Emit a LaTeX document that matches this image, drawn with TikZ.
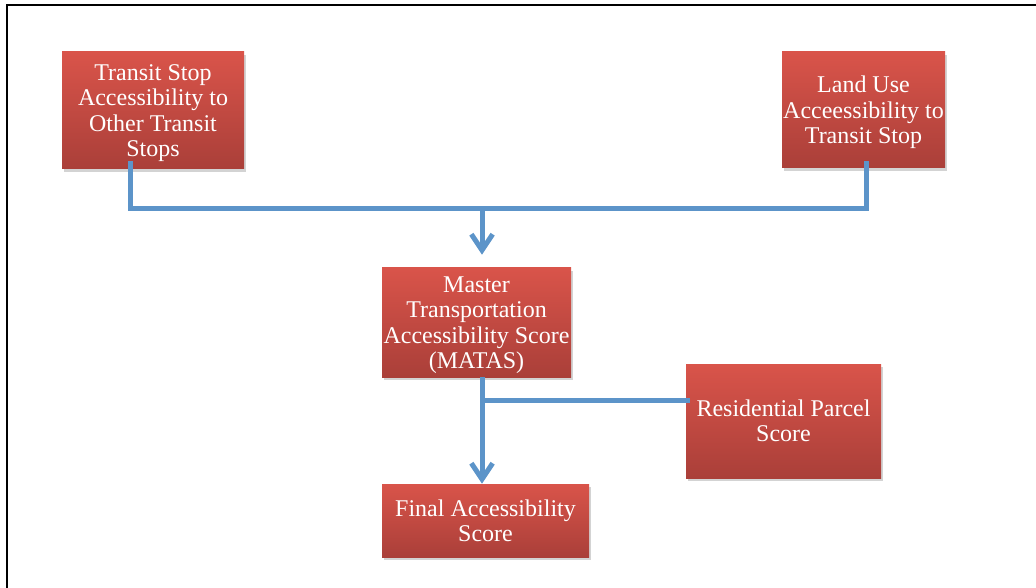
\documentclass[tikz,border=0pt]{standalone}
\usepackage{fontspec}
\setmainfont{Liberation Serif}
\usepackage{tikz}
\usetikzlibrary{calc, positioning, arrows.meta, shadows}

\definecolor{boxtop}{RGB}{217,84,74}
\definecolor{boxbottom}{RGB}{170,63,57}
\definecolor{linkblue}{RGB}{92,148,201}

\begin{document}
\begin{tikzpicture}[x=0.75pt, y=-0.75pt,
        stepbox/.style={rectangle, inner sep=0pt, top color=boxtop, bottom color=boxbottom,
            text=white, align=center, text depth=0pt, font=\fontsize{18}{19}\selectfont,
            drop shadow={shadow xshift=1.5pt, shadow yshift=-2.5pt, opacity=0.35}},
        link/.style={draw=linkblue, line width=3.75pt, line join=miter},
        flow/.style={-{Straight Barb[length=12pt, width=16pt]}}]

            \useasboundingbox (0,0) rectangle (1036,588);
            \draw[line width=1.5pt] (7,588) -- (7,5) -- (1036,5);

            \node[stepbox, minimum width=136.5pt, minimum height=87.75pt] (tstop) at (153,110.5) {Transit Stop\\Accessibility to\\Other Transit\\Stops};
            \node[stepbox, minimum width=122.25pt, minimum height=87pt] (luse) at (863.5,110) {Land Use\\Acceessibility to\\Transit Stop};
            \node[stepbox, minimum width=141.75pt, minimum height=81.75pt] (matas) at (476.5,322.5) {Master\\Transportation\\Accessibility Score\\(MATAS)};
            \node[stepbox, minimum width=146.25pt, minimum height=85.5pt] (resid) at (783.5,421) {Residential Parcel\\Score};
            \node[stepbox, minimum width=155.25pt, minimum height=54.75pt] (final) at (485.5,520.5) {Final Accessibility\\Score};

            \coordinate (split) at (482,209);
            \coordinate (merge) at (482,400);

            \draw[link] ([xshift=-17.25pt, yshift=6pt]tstop.south) |- (split) -| ([xshift=1.9pt, yshift=5.25pt]luse.south);
            \draw[link, flow, shorten >=9.75pt] (split) -- (matas.north -| split);

            \draw[link] ([xshift=3pt, yshift=15.75pt]resid.west) -- (merge);
            \draw[link, flow] (matas.south -| merge) -- (final.north -| merge);
\end{tikzpicture}
\end{document}
